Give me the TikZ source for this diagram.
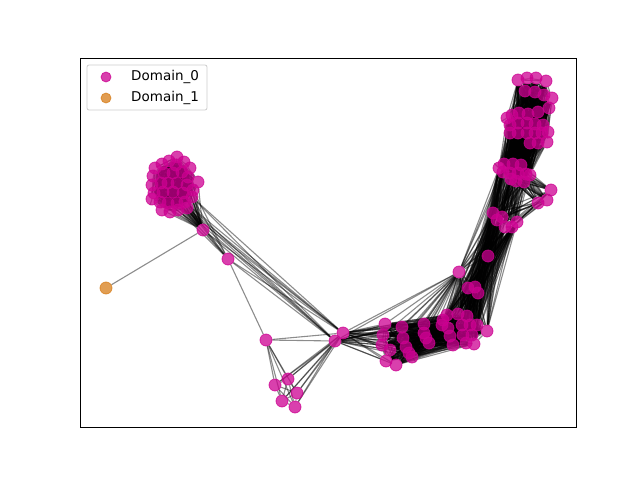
\documentclass[tikz,border=0pt]{standalone}
\usepackage{fontspec}
\setmainfont{DejaVu Sans}

\definecolor{domzero}{RGB}{204,0,145}
\definecolor{domone}{RGB}{215,125,25}

\pgfdeclarelayer{edges}
\pgfsetlayers{edges,main}

% every pair inside one group
\newcommand\allpairs[2]{%
  \foreach \i in {2,...,#2}{%
    \pgfmathtruncatemacro\prev{\i-1}%
    \foreach \j in {1,...,\prev} \draw[edge] (#1\i) -- (#1\j);}}
% every pair between two groups
\newcommand\crossall[4]{%
  \foreach \i in {#2}{\foreach \j in {#4} \draw[edge] (#1\i) -- (#3\j);}}

\begin{document}
\begin{tikzpicture}[x=1pt, y=-1pt,
    dot/.style={circle, minimum size=12pt, inner sep=0pt, fill=domzero, draw=domzero,
      line width=0.8pt, fill opacity=0.75, draw opacity=0.75},
    dotone/.style={dot, fill=domone, draw=domone},
    edge/.style={draw=black, line width=1.1pt, draw opacity=0.45}]
  \useasboundingbox (0,0) rectangle (640,480);
  \draw[line width=0.9pt] (80,58) rectangle (576,427);

  % left cluster
  \foreach \x/\y [count=\i] in {177/157, 169/161, 184/162, 162/164, 155/168, 176/165, 190/168,
      153/176, 164/173, 173/173, 182/172, 188/177, 198/182, 152/185, 161/183, 168/183, 177/183,
      187/185, 193/190, 154/193, 163/192, 173/192, 183/193, 192/197, 152/199, 160/202, 168/203,
      177/203, 185/202, 162/210, 170/212, 178/210, 187/208}
    \node[dot] (l\i) at (\x,\y) {};
  \node[dot] (a1) at (203,230) {};
  \node[dot] (a2) at (228,259) {};
  \node[dot] (b1) at (266,340) {};
  \node[dot] (c1) at (343,333) {};
  \node[dot] (c2) at (335,341) {};
  % bottom group
  \foreach \x/\y [count=\i] in {275/385, 288/379, 297/393, 282/401, 295/407}
    \node[dot] (d\i) at (\x,\y) {};
  % middle cluster
  \foreach \x/\y [count=\i] in {385/324, 402/327, 383/335, 403/338, 382/345, 390/350, 406/347,
      409/353, 386/361, 396/365, 412/357, 424/324, 424/333, 426/338, 429/343, 443/320, 447/315,
      442/325, 448/328, 450/336, 453/345, 458/314, 467/316, 462/325, 470/325, 477/325, 463/335,
      472/335, 466/343, 474/344, 487/331}
    \node[dot] (m\i) at (\x,\y) {};
  \node[dot] (h1) at (459,272) {};
  \node[dot] (q1) at (488,256) {};
  \foreach \x/\y [count=\i] in {468/288, 475/287, 478/293}
    \node[dot] (p\i) at (\x,\y) {};
  % right column
  \foreach \x/\y [count=\i] in {493/213, 497/220, 502/217, 505/227, 512/227, 517/222}
    \node[dot] (t\i) at (\x,\y) {};
  \foreach \x/\y [count=\i] in {551/190, 547/200, 538/203}
    \node[dot] (s\i) at (\x,\y) {};
  \foreach \x/\y [count=\i] in {504/164, 513/164, 521/165, 503/172, 510/173, 518/173, 526/174,
      530/175, 511/179, 516/181, 524/182, 499/168}
    \node[dot] (u\i) at (\x,\y) {};
  \foreach \x/\y [count=\i] in {518/80, 527/78, 536/78, 546/81, 525/91, 535/92, 544/95, 552/98,
      549/108, 538/112, 528/114, 519/113, 512/115, 507/118, 510/125, 518/123, 527/123, 535/124,
      543/125, 548/132, 510/133, 518/133, 527/133, 535/133, 542/133, 530/143, 538/143, 547/142}
    \node[dot] (r\i) at (\x,\y) {};
  \node[dotone] (o1) at (106,288) {};

  \begin{pgfonlayer}{edges}
    \allpairs{l}{33}
    \crossall{l}{1,...,33}{a}{1}
    \crossall{l}{19,24,28,29,32,33}{a}{2}
    \crossall{l}{24,29,33,28}{c}{1,2}
    \draw[edge] (a1) -- (a2);
    \draw[edge] (o1) -- (a1);
    \crossall{a}{1,2}{c}{1,2}
    \draw[edge] (a2) -- (b1);
    \crossall{b}{1}{c}{1,2}
    \crossall{b}{1}{d}{1,...,5}
    \crossall{c}{1,2}{d}{1,...,5}
    \allpairs{d}{5}
    \allpairs{m}{31}
    \crossall{c}{1,2}{m}{1,...,15}
    \crossall{c}{1,2}{m}{16,17,22,23}
    \crossall{c}{1,2}{h}{1}
    \crossall{h}{1}{m}{1,...,31}
    \crossall{p}{1,2,3}{m}{16,...,31}
    \crossall{p}{1,2,3}{h}{1}
    \allpairs{p}{3}
    \crossall{t}{1,...,6}{m}{16,...,31}
    \crossall{t}{1,...,6}{p}{1,2,3}
    \crossall{t}{1,...,6}{h}{1}
    \crossall{t}{1,...,6}{q}{1}
    \allpairs{t}{6}
    \crossall{s}{1,2,3}{t}{1,...,6}
    \crossall{s}{1,2,3}{u}{1,...,12}
    \allpairs{s}{3}
    \crossall{u}{1,...,12}{t}{1,...,6}
    \crossall{u}{1,4,9,12}{m}{22,...,31}
    \crossall{u}{1,4,9,12}{h}{1}
    \crossall{u}{1,4,9,12}{p}{1,2,3}
    \crossall{q}{1}{u}{3,7,8}
    \draw[edge] (q1) -- (m31);
    \draw[edge] (q1) -- (h1);
    \allpairs{u}{12}
    \crossall{r}{1,...,28}{u}{1,...,12}
    \allpairs{r}{28}
  \end{pgfonlayer}

  % legend
  \draw[draw=black!20, fill=white, rounded corners=2pt, line width=0.8pt] (87,65) rectangle (207,110);
  \node[dot, minimum size=10pt] (key0) at (106,77) {};
  \node[dotone, minimum size=10pt] (key1) at (106,98) {};
  \node[anchor=west, font=\fontsize{13.5}{16}\selectfont, inner sep=0pt] (lab0) at (131,77) {Domain\_0};
  \node[anchor=west, font=\fontsize{13.5}{16}\selectfont, inner sep=0pt] (lab1) at (131,98) {Domain\_1};
\end{tikzpicture}
\end{document}
